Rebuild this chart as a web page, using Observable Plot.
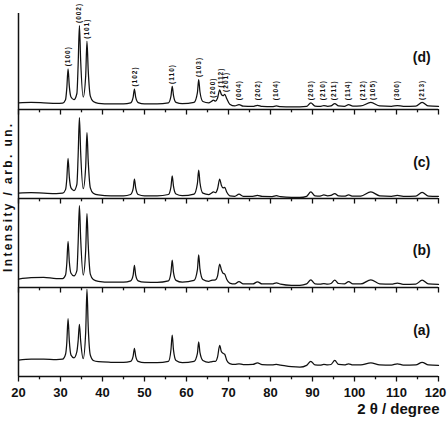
<!DOCTYPE html>
<html>
<head>
<meta charset="utf-8">
<script src="https://cdn.jsdelivr.net/npm/d3@7"></script>
<script src="https://cdn.jsdelivr.net/npm/@observablehq/plot@0.6"></script>
<style>
  html, body { margin: 0; padding: 0; background: #fff; }
  svg { display: block; }
</style>
</head>
<body>
<div id="chart"></div>
<script>
// ---- Data ----
// 2θ grid (degrees)
const twoTheta = [20, 23, 26, 29, 30.5, 31.2, 31.5, 31.8, 32.1, 32.5, 33.2, 33.9, 34.2, 34.5, 34.8,
  35.4, 36.0, 36.3, 36.6, 37.1, 37.8, 39, 42, 45, 46.7, 47.3, 47.6, 47.9, 48.5, 50,
  53, 55.7, 56.3, 56.6, 56.9, 57.5, 59, 61.8, 62.6, 62.9, 63.2, 63.9, 65.3, 65.9, 66.4,
  66.9, 67.4, 67.9, 68.3, 68.7, 69.1, 69.6, 70.3, 71.5, 72.5, 73.5, 75.8, 76.9, 78, 80.4,
  81.4, 82.4, 85, 87, 88.6, 89.6, 90.6, 91.8, 92.7, 93.6, 94.4, 95.3, 96.2, 97.6, 98.6,
  99.6, 101.5, 103.9, 106, 108.8, 110.2, 111.6, 114.6, 116.1, 117.6, 120];

// intensity (arb. un., 0-100 per panel) for each sample
const intensityA = [18.5, 19.5, 19.5, 19, 19.5, 25, 38, 65, 40, 24, 21, 28, 40, 58.6, 40,
  20, 50, 98, 56, 24, 18, 16.6, 16, 15.8, 17, 23, 31.7, 23, 17, 15.5,
  15.5, 17, 30, 46.6, 30, 18, 15.5, 17, 26, 39, 27, 18, 16, 16.5, 17,
  17, 22, 35, 28, 26, 25, 18, 14.5, 13.5, 14.3, 13.3, 13.5, 15.4, 13.3, 13,
  13.5, 12.8, 11, 10.5, 12.5, 17, 13, 12.8, 13.5, 13, 13.5, 18, 13.5, 13, 14.3,
  13, 13, 15.4, 13, 12.8, 14.3, 12.8, 13, 16, 13, 12.5];
const intensityB = [9.5, 11, 11.5, 10, 10, 14, 27, 51.7, 29, 16, 13, 19, 50, 92, 55,
  14, 42, 83, 48, 15, 9, 7, 6, 6, 7.5, 14, 25, 14, 7.5, 6,
  5.8, 7.5, 17, 30.7, 17, 8, 6, 8, 20, 36.7, 21, 9, 7, 8, 8.3,
  8.5, 13, 26.3, 20, 16, 15, 9, 5, 4, 6.7, 4, 4, 6.4, 4, 4,
  5.3, 3.8, 2.5, 2.5, 4, 8.7, 4.2, 3.8, 4.5, 3.8, 4.5, 8.3, 4.5, 4, 6.7,
  4, 4, 8.7, 4.2, 3.8, 5, 3.6, 3.8, 8.3, 4, 3.5];
const intensityC = [6, 6.5, 6, 5.6, 6, 10, 22, 45, 24, 12, 9, 16, 48, 91, 52,
  11, 36, 74, 42, 12, 6, 4, 3, 3, 4.5, 11, 21.7, 12, 4.5, 3,
  3, 4.5, 13, 25.4, 14, 5, 3.2, 5, 17, 32, 18, 6, 4.5, 6, 7.4,
  6.5, 11, 21.7, 15, 12, 12.5, 7, 3, 2.5, 4.8, 2.5, 2.5, 3.5, 2.3, 2.2,
  3.2, 2, 1.2, 1.2, 2.5, 7.4, 3, 2.8, 4, 3, 3.5, 5.6, 3, 2.6, 4,
  2.6, 2.8, 7.4, 3, 2.5, 3.5, 2.5, 2.8, 6.8, 2.8, 2.5];
const intensityD = [7.5, 8, 7.5, 6.8, 7.2, 11, 24, 45.7, 26, 14, 11, 18, 50, 94.4, 55,
  14, 38, 76.7, 44, 15, 9, 7, 6.3, 6.3, 7.5, 14, 23, 14, 7.8, 6.3,
  6.3, 7.5, 15, 26, 16, 8, 6.5, 8, 19, 33.7, 20, 9, 7.5, 9, 10.5,
  9.5, 13, 22, 17, 15.5, 17, 12, 6, 4, 5.6, 3.8, 3.5, 4.8, 3.4, 3.2,
  4, 3.2, 3, 3, 3.5, 7.5, 3.8, 3.4, 4.5, 3.6, 4, 6.7, 4, 3.6, 5.5,
  3.8, 4, 8, 4, 3.6, 4.5, 3.5, 3.8, 8, 4, 3.5];

const sampleNames = ["(a)", "(b)", "(c)", "(d)"];
const hklLabels = ["(100)", "(002)", "(101)", "(102)", "(110)", "(103)", "(200)", "(112)", "(201)", "(004)",
  "(202)", "(104)", "(203)", "(210)", "(211)", "(114)", "(212)", "(105)", "(300)", "(213)"];
const hklAngles = [31.8, 34.5, 36.3, 47.6, 56.6, 62.9, 66.2, 68.2, 69.4, 72.5,
  76.9, 81.4, 89.6, 92.5, 95.1, 98.4, 102.0, 104.4, 110.0, 116.1];

const xTickLabels = [20, 30, 40, 50, 60, 70, 80, 90, 100, 110, 120];
const xMinorTicks = [25, 35, 45, 55, 65, 75, 85, 95, 105, 115];

const xTitle = "2 θ / degree";
const yTitle = "Intensity / arb. un.";

// ---- Build tables ----
const series = [intensityA, intensityB, intensityC, intensityD];
const PANEL = 100;
const rows = [];
series.forEach((vals, i) => {
  vals.forEach((v, j) => rows.push({t: twoTheta[j], v: v + PANEL * i, sample: sampleNames[i]}));
});

const boundaries = [0, 100, 200, 300];
const tickRows = [];
boundaries.forEach(b => {
  xTickLabels.forEach(t => tickRows.push({t, b, major: true}));
  xMinorTicks.forEach(t => tickRows.push({t, b, major: false}));
});

// label baselines above the peaks of pattern (d)
const hklRows = hklLabels.map((lab, k) => {
  const a = hklAngles[k];
  let m = 0;
  twoTheta.forEach((t, j) => { if (Math.abs(t - a) <= 0.55) m = Math.max(m, intensityD[j]); });
  return {lab, a, y: 300 + Math.max(m + 2.8, 10.5)};
});

const panelLabelY = [52, 142, 240, 358];
const panelLabels = sampleNames.map((s, i) => ({s, y: panelLabelY[i]}));

const lastTick = xTickLabels[xTickLabels.length - 1];
const innerTicks = xTickLabels.slice(0, -1);

const font = "'Liberation Sans', Arial, sans-serif";

const chart = Plot.plot({
  width: 447,
  height: 421,
  marginLeft: 18,
  marginRight: 9,
  marginTop: 13,
  marginBottom: 45,
  x: {domain: [20, 120], axis: null},
  y: {domain: [0, 407.9], axis: null},
  style: {fontFamily: font, background: "white", overflow: "visible"},
  marks: [
    Plot.line(rows, {x: "t", y: "v", z: "sample", curve: "monotone-x", stroke: "#111", strokeWidth: 1.25}),
    Plot.ruleY(boundaries, {stroke: "#111", strokeWidth: 1.5}),
    Plot.ruleX([20], {y1: 0, y2: 407.9, stroke: "#111", strokeWidth: 1.5}),
    Plot.ruleX(tickRows, {x: "t", y1: "b", y2: d => d.b - (d.major ? 6.2 : 3.7), stroke: "#111", strokeWidth: 1.3}),
    Plot.text(innerTicks, {x: d => d, y: 0, dy: 16, text: d => String(d), fontSize: 13, fontWeight: "bold", fill: "#111"}),
    Plot.text([lastTick], {x: d => d, y: 0, dy: 16, dx: -3, text: d => String(d), fontSize: 13, fontWeight: "bold", fill: "#111"}),
    Plot.text([xTitle], {x: 120, y: 0, dx: 1, dy: 33, text: d => d, textAnchor: "end", fontSize: 15, fontWeight: "bold", fill: "#111"}),
    Plot.text([yTitle], {x: 20, y: 202, dx: -10.5, rotate: -90, text: d => d, fontSize: 12, fontWeight: "bold", fill: "#111"}),
    Plot.text(panelLabels, {x: 116, y: "y", text: "s", fontSize: 14, fontWeight: "bold", fill: "#111"}),
    Plot.text(hklRows, {x: "a", y: "y", text: "lab", rotate: -90, textAnchor: "start", fontSize: 6.5, fontWeight: "bold", fill: "#111"})
  ]
});

const sel = d3.select(chart);
sel.selectAll("text").filter(function() { return this.textContent === yTitle; }).attr("letter-spacing", "2.4");
sel.selectAll("text").filter(function() { return hklLabels.includes(this.textContent); }).attr("letter-spacing", "1");

document.getElementById("chart").appendChild(chart);
</script>
</body>
</html>
